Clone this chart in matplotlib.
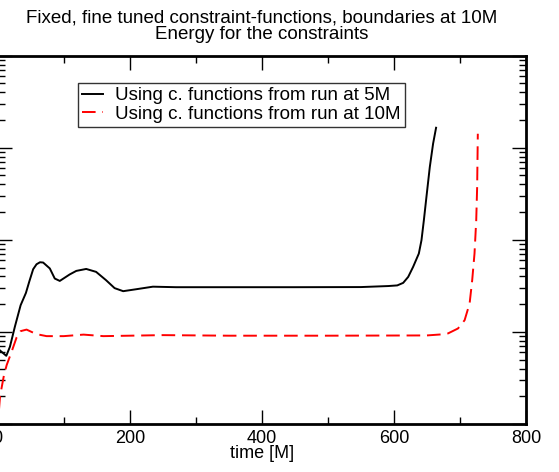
import matplotlib
matplotlib.use("Agg")
import matplotlib.pyplot as plt

plt.rcParams['font.family'] = ['Liberation Sans', 'DejaVu Sans']

# run with constraint functions from 5M
t_5m = [0, 13, 18.5, 26, 34.7, 42.7, 48, 53.7, 58.8, 64, 68.8, 78.9, 86.4, 94,
        109, 119, 134, 149, 164, 177, 190, 210, 235, 270, 350, 450, 550, 591.5,
        605, 614, 621.6, 629, 637.7, 641.7, 645.3, 649.2, 654.3, 659.3, 663.8]
e_5m = [6.6e-6, 5.5e-6, 6.9e-6, 1.14e-5, 1.95e-5, 2.65e-5, 3.56e-5, 4.8e-5, 5.43e-5,
        5.71e-5, 5.67e-5, 4.89e-5, 3.8e-5, 3.58e-5, 4.21e-5, 4.6e-5, 4.83e-5, 4.49e-5,
        3.65e-5, 2.99e-5, 2.77e-5, 2.91e-5, 3.1e-5, 3.06e-5, 3.06e-5, 3.06e-5, 3.07e-5,
        3.15e-5, 3.2e-5, 3.41e-5, 3.96e-5, 5.08e-5, 7.1e-5, 9.91e-5, 1.63e-4, 2.92e-4,
        6.18e-4, 1.11e-3, 1.65e-3]

# run with constraint functions from 10M
t_10m = [0, 1.5, 3.5, 9.5, 13.6, 21, 28.6, 34.7, 43.7, 51.3, 58.8, 74, 100, 130,
         160, 250, 350, 500, 650, 672, 682, 697, 707, 714.6, 718.5, 722, 724.6,
         726, 727]
e_10m = [8e-7, 1.3e-6, 2.0e-6, 3.4e-6, 4.37e-6, 6.08e-6, 8.71e-6, 1.02e-5, 1.06e-5,
         1.0e-5, 9.46e-6, 9.0e-6, 9.0e-6, 9.35e-6, 9.0e-6, 9.23e-6, 9.1e-6, 9.1e-6,
         9.16e-6, 9.4e-6, 9.64e-6, 1.09e-5, 1.34e-5, 2.04e-5, 3.65e-5, 7.1e-5,
         1.63e-4, 3.75e-4, 1.42e-3]

fig = plt.figure(figsize=(5.59, 4.72), dpi=100)
ax = fig.add_axes([-0.0041, 0.1017, 0.9451, 0.7803])

ax.plot(t_5m, e_5m, color='black', lw=1.4, label='Using c. functions from run at 5M')
ax.plot(t_10m, e_10m, color='red', lw=1.4, dashes=(7, 3.5),
        label='Using c. functions from run at 10M')

ax.set_yscale('log')
ax.set_xlim(0, 800)
ax.set_ylim(1e-6, 1e-2)
ax.set_xticks([0, 200, 400, 600, 800])
ax.set_xticks([100, 300, 500, 700], minor=True)

ax.tick_params(which='both', direction='in', top=True, right=True, labelsize=13,
               labelleft=False, width=1, pad=4)
ax.tick_params(which='major', length=10)
ax.tick_params(which='minor', length=5)
for s in ax.spines.values():
    s.set_linewidth(2)

ax.set_xlabel('time [M]', fontsize=13, labelpad=-1)
ax.set_title('Fixed, fine tuned constraint-functions, boundaries at 10M\n'
             'Energy for the constraints', fontsize=13.5, pad=12, linespacing=0.95)

leg = ax.legend(loc='upper left', bbox_to_anchor=(0.152, 0.926), fontsize=13.5,
                frameon=True, fancybox=False, edgecolor='black', handlelength=1.1,
                handletextpad=0.65, borderpad=0.22, labelspacing=0.08, borderaxespad=0)
leg.get_frame().set_linewidth(1)

fig.savefig('out.png', dpi=100)
